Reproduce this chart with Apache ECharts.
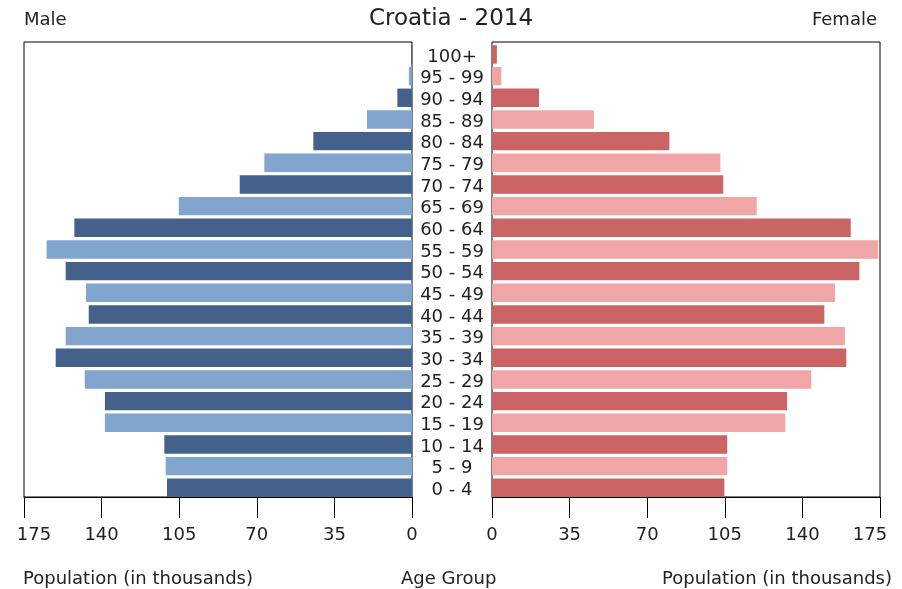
<!DOCTYPE html>
<html>
<head>
<meta charset="utf-8">
<script src="https://cdn.jsdelivr.net/npm/echarts@6/dist/echarts.min.js"></script>
<style>
html,body{margin:0;padding:0;background:#fff;}
#chart{width:902px;height:589px;}
</style>
</head>
<body>
<div id="chart"></div>
<script>
// Age groups, bottom to top
const ageGroups = ['0 - 4','5 - 9','10 - 14','15 - 19','20 - 24','25 - 29','30 - 34','35 - 39','40 - 44','45 - 49','50 - 54','55 - 59','60 - 64','65 - 69','70 - 74','75 - 79','80 - 84','85 - 89','90 - 94','95 - 99','100+'];
// Population in thousands
const maleValues = [110.5,111.1,111.7,138.5,138.5,147.6,160.7,156.2,145.8,147.0,156.2,164.8,152.3,105.2,77.7,66.6,44.5,20.3,6.6,1.4,0.4];
const femaleValues = [104.8,106.1,106.1,132.3,133.1,144.0,159.8,159.2,149.9,154.7,165.7,174.2,161.8,119.4,104.3,103.0,80.0,46.0,21.2,4.2,2.2];
const axisTicks = [0,35,70,105,140,175];

const maleColors = ['#43618a','#82a5cd'];
const femaleColors = ['#cb6465','#f0a6a6'];

const chart = echarts.init(document.getElementById('chart'), null, {renderer:'canvas'});
const font = 'DejaVu Sans';
const maxTick = axisTicks[axisTicks.length-1];
const emptySlot = ageGroups.map(() => null);
function makeXAxis(gridIndex, inverse, edgeStyle){
  return {
    type:'value', gridIndex:gridIndex, inverse:inverse,
    min:axisTicks[0], max:maxTick, interval:35,
    axisLine:{show:true, lineStyle:{color:'#000', width:1}},
    axisTick:{show:true, inside:false, length:21, lineStyle:{color:'#000', width:1}},
    axisLabel:{show:true, color:'#222', fontFamily:font, fontSize:18, margin:29,
      formatter: v => v === maxTick ? '{edge|' + v + '}' : String(v),
      rich:{edge:Object.assign({color:'#222', fontFamily:font, fontSize:18}, edgeStyle)}},
    splitLine:{show:false}
  };
}
chart.setOption({
  animation:false,
  backgroundColor:'#fff',
  grid:[
    {left:24, right:490, top:42, bottom:92, show:true, borderColor:'#000', borderWidth:1, backgroundColor:'transparent'},
    {left:492, right:22, top:42, bottom:92, show:true, borderColor:'#000', borderWidth:1, backgroundColor:'transparent'}
  ],
  xAxis:[
    makeXAxis(0, true, {padding:[0,0,0,20]}),
    makeXAxis(1, false, {padding:[0,20,0,0]})
  ],
  yAxis:[
    {type:'category', gridIndex:0, data:ageGroups, position:'right',
     axisLine:{show:false}, axisTick:{show:false},
     axisLabel:{show:true, interval:0, align:'center', margin:40, color:'#222', fontFamily:font, fontSize:18,
       formatter: v => '{age|' + v + '}',
       rich:{age:{color:'#222', fontFamily:font, fontSize:18, padding:[8,0,0,0]}}}},
    {type:'category', gridIndex:1, data:ageGroups,
     axisLine:{show:false}, axisTick:{show:false}, axisLabel:{show:false}}
  ],
  series:[
    {type:'bar', xAxisIndex:0, yAxisIndex:0, data:emptySlot, barWidth:3.2, barGap:0, silent:true,
     itemStyle:{color:'transparent'}},
    {type:'bar', xAxisIndex:0, yAxisIndex:0, data:maleValues, barWidth:18.4, barGap:0,
     itemStyle:{color:p => maleColors[p.dataIndex % 2]}},
    {type:'bar', xAxisIndex:1, yAxisIndex:1, data:emptySlot, barWidth:3.2, barGap:0, silent:true,
     itemStyle:{color:'transparent'}},
    {type:'bar', xAxisIndex:1, yAxisIndex:1, data:femaleValues, barWidth:18.4, barGap:0,
     itemStyle:{color:p => femaleColors[p.dataIndex % 2]}}
  ],
  graphic:[
    {type:'text', left:'center', top:8, style:{text:'Croatia - 2014', font:'23px "DejaVu Sans"', fill:'#222'}},
    {type:'text', left:24, top:11, style:{text:'Male', font:'18px "DejaVu Sans"', fill:'#222'}},
    {type:'text', right:25, top:11, style:{text:'Female', font:'18px "DejaVu Sans"', fill:'#222'}},
    {type:'text', left:23, top:570, style:{text:'Population (in thousands)', font:'18px "DejaVu Sans"', fill:'#222'}},
    {type:'text', left:401, top:570, style:{text:'Age Group', font:'18px "DejaVu Sans"', fill:'#222'}},
    {type:'text', right:10, top:570, style:{text:'Population (in thousands)', font:'18px "DejaVu Sans"', fill:'#222'}}
  ]
});
</script>
</body>
</html>
